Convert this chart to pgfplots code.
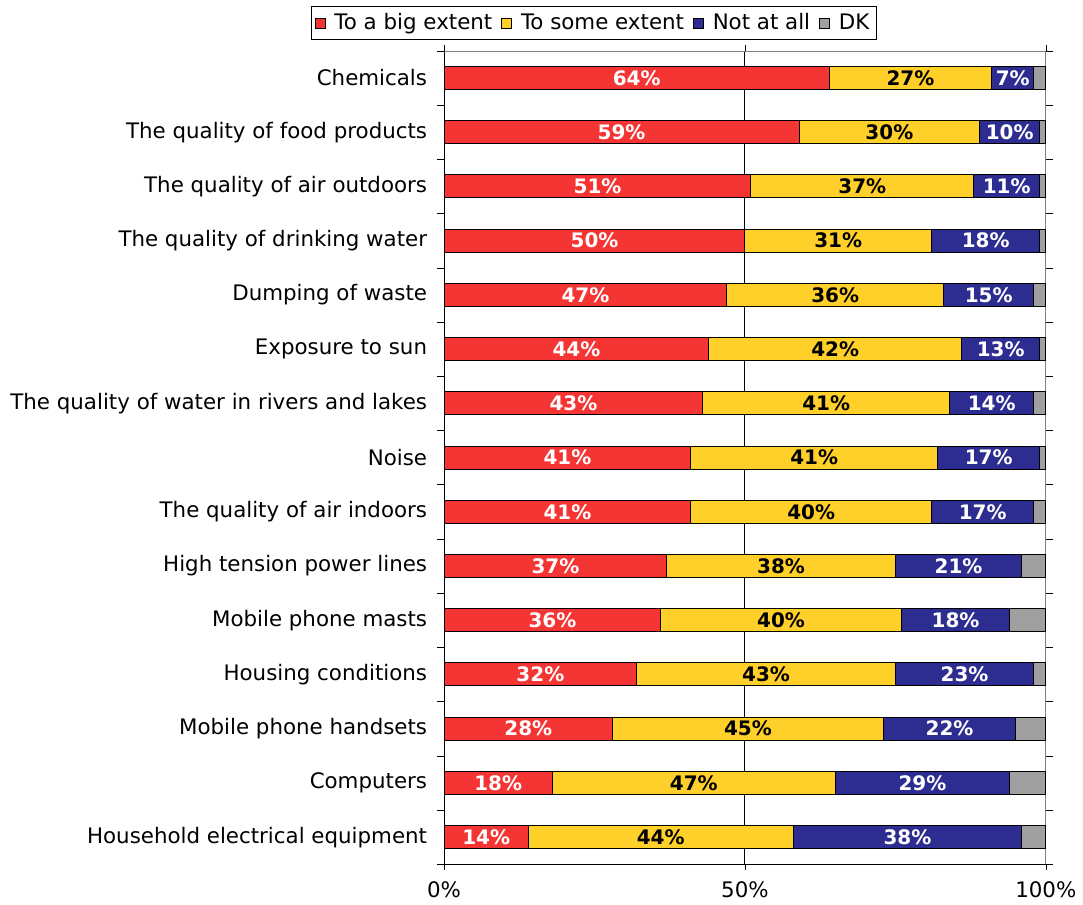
\documentclass[border=0pt]{standalone}
\usepackage{fontspec}
\setmainfont{DejaVu Sans}
\usepackage{pgfplots}
\usepackage{pgfplotstable}
\pgfplotsset{compat=1.18}
\definecolor{bigred}{RGB}{245,52,52}
\definecolor{someyel}{RGB}{255,207,42}
\definecolor{notnavy}{RGB}{45,45,145}
\definecolor{dkgray}{RGB}{160,160,160}

\pgfplotstableread{
big some notat dk
64 27 7 2
59 30 10 1
51 37 11 1
50 31 18 1
47 36 15 2
44 42 13 1
43 41 14 2
41 41 17 1
41 40 17 2
37 38 21 4
36 40 18 6
32 43 23 2
28 45 22 5
18 47 29 6
14 44 38 4
}\datatable

\pgfplotsset{
  common/.style={
    width=301.5pt, height=407.5pt, scale only axis,
    xmin=0, xmax=100, ymin=-0.5, ymax=14.5, y dir=reverse,
  },
  lbl/.style={only marks, mark=*, mark size=0pt,
    point meta=explicit symbolic,
    nodes near coords={\pgfplotspointmeta\%},
    every node near coord/.append style={anchor=center,
      font=\fontsize{10}{12}\selectfont\bfseries, text=#1}},
}

\begin{document}
\begin{tikzpicture}
\begin{axis}[
  common,
  xbar stacked,
  bar width=11.5pt,
  clip=false,
  axis line style={gray},
  xtick={0,50,100},
  xticklabels={0\%,50\%,100\%},
  xmajorgrids,
  grid style={black, line width=0.5pt},
  ytick={0,...,14},
  yticklabels={Chemicals, The quality of food products, The quality of air outdoors,
    The quality of drinking water, Dumping of waste, Exposure to sun,
    The quality of water in rivers and lakes, Noise, The quality of air indoors,
    High tension power lines, Mobile phone masts, Housing conditions,
    Mobile phone handsets, Computers, Household electrical equipment},
  minor ytick={-0.5,0.5,...,14.5},
  tick align=outside,
  major tick length=3pt,
  minor tick length=3.5pt,
  major y tick style={draw=none},
  minor y tick style={black},
  major x tick style={black},
  ticklabel style={font=\fontsize{10.7}{12}\selectfont},
  x tick label style={yshift=-2pt},
  y tick label style={xshift=-2pt},
  legend style={at={(-0.2206,1.055)}, anchor=north west, legend columns=4,
    draw=black, font=\fontsize{10.7}{12}\selectfont, inner sep=1.5pt,
    /tikz/every even column/.append style={column sep=2.5pt},
    /tikz/every odd column/.append style={column sep=2.5pt}},
  legend image code/.code={\draw[#1, draw=black, line width=0.4pt] (0pt,-2.5pt) rectangle (5pt,2.5pt);},
]
\addplot[fill=bigred, draw=black, line width=0.5pt] table[x=big, y expr=\coordindex] {\datatable};
\addplot[fill=someyel, draw=black, line width=0.5pt] table[x=some, y expr=\coordindex] {\datatable};
\addplot[fill=notnavy, draw=black, line width=0.5pt] table[x=notat, y expr=\coordindex] {\datatable};
\addplot[fill=dkgray, draw=black, line width=0.5pt] table[x=dk, y expr=\coordindex] {\datatable};
\legend{To a big extent, To some extent, Not at all, DK}
\draw[black] (axis description cs:0,1) -- (axis description cs:0,0) -- (axis description cs:1,0);
\path (axis description cs:-0.738,-0.0491) rectangle (axis description cs:1.058,1.0626);
\end{axis}
\begin{axis}[common, hide axis]
\addplot[lbl=white] table[x expr=\thisrow{big}/2, y expr=\coordindex, meta=big] {\datatable};
\addplot[lbl=black] table[x expr=\thisrow{big}+\thisrow{some}/2, y expr=\coordindex, meta=some] {\datatable};
\addplot[lbl=white] table[x expr=\thisrow{big}+\thisrow{some}+\thisrow{notat}/2, y expr=\coordindex, meta=notat] {\datatable};
\end{axis}
\end{tikzpicture}
\end{document}
